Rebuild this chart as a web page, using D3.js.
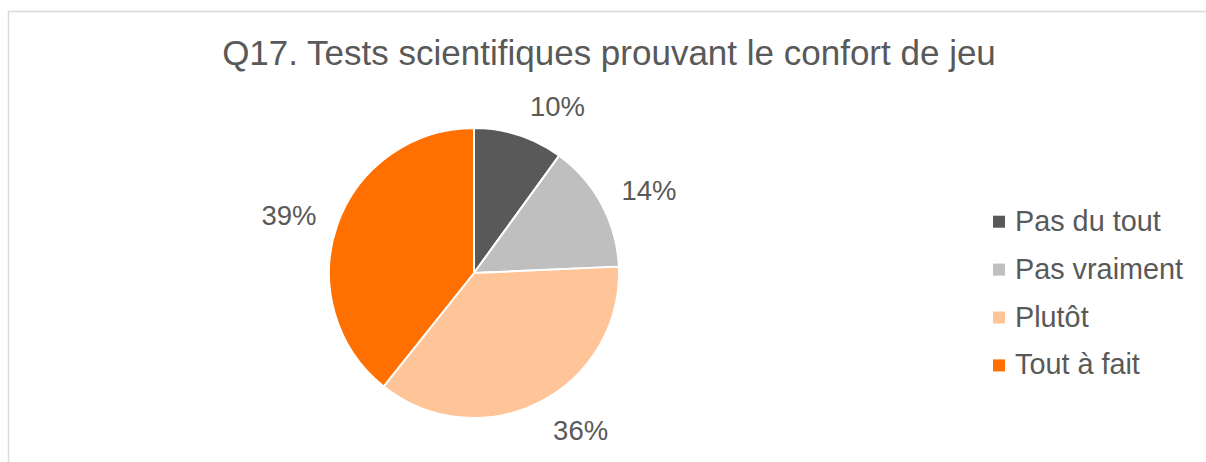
<!DOCTYPE html>
<html>
<head>
<meta charset="utf-8">
<script src="https://cdn.jsdelivr.net/npm/d3@7"></script>
<style>
  body { margin: 0; background: #fff; }
  text { font-family: "Liberation Sans", Arial, sans-serif; fill: #595959; }
</style>
</head>
<body>
<script>
const title = 'Q17. Tests scientifiques prouvant le confort de jeu';
const categories = ['Pas du tout', 'Pas vraiment', 'Plutôt', 'Tout à fait'];
const values = [10.0, 14.3, 36.4, 39.3];
const colors = ['#595959', '#bfbfbf', '#ffc599', '#ff7000'];

const width = 1206, height = 462;
const cx = 474, cy = 273, radius = 145;

const svg = d3.select('body').append('svg')
    .attr('width', width)
    .attr('height', height);

// chart frame (runs off the right and bottom)
svg.append('rect')
    .attr('x', 8.5).attr('y', 11.5)
    .attr('width', width + 20).attr('height', height + 20)
    .attr('fill', 'none')
    .attr('stroke', '#d9d9d9')
    .attr('stroke-width', 1.5);

svg.append('text')
    .attr('x', 609).attr('y', 65)
    .attr('text-anchor', 'middle')
    .style('font-size', '35px')
    .text(title);

const total = d3.sum(values);
const pie = d3.pie().sort(null).value(d => d);
const arc = d3.arc().innerRadius(0).outerRadius(radius);
const fmt = d3.format('.0%');

const g = svg.append('g').attr('transform', `translate(${cx},${cy})`);
const slices = pie(values);

g.selectAll('path.slice')
    .data(slices)
    .enter().append('path')
    .attr('class', 'slice')
    .attr('d', arc)
    .attr('fill', (d, i) => colors[i])
    .attr('stroke', '#fff')
    .attr('stroke-width', 2)
    .attr('stroke-linejoin', 'round');

// outside labels, placed next to the slice
const labelR = radius + 15;
g.selectAll('text.lbl')
    .data(slices)
    .enter().append('text')
    .attr('class', 'lbl')
    .attr('text-anchor', 'middle')
    .style('font-size', '27.5px')
    .attr('x', d => {
        const a = (d.startAngle + d.endAngle) / 2;
        return labelR * Math.sin(a) + (Math.sin(a) >= 0 ? 34 : -34);
    })
    .attr('y', d => {
        const a = (d.startAngle + d.endAngle) / 2;
        return -labelR * Math.cos(a) - 16 * Math.cos(a) + 10;
    })
    .text(d => fmt(d.value / total));

// legend
const legend = svg.append('g').attr('transform', 'translate(993,0)');
const rows = legend.selectAll('g')
    .data(categories)
    .enter().append('g')
    .attr('transform', (d, i) => `translate(0,${230.7 + i * 47.9})`);

rows.append('rect')
    .attr('x', 0).attr('y', -15)
    .attr('width', 12).attr('height', 12)
    .attr('fill', (d, i) => colors[i]);

rows.append('text')
    .attr('x', 22).attr('y', 0)
    .style('font-size', '28.8px')
    .text(d => d);
</script>
</body>
</html>
